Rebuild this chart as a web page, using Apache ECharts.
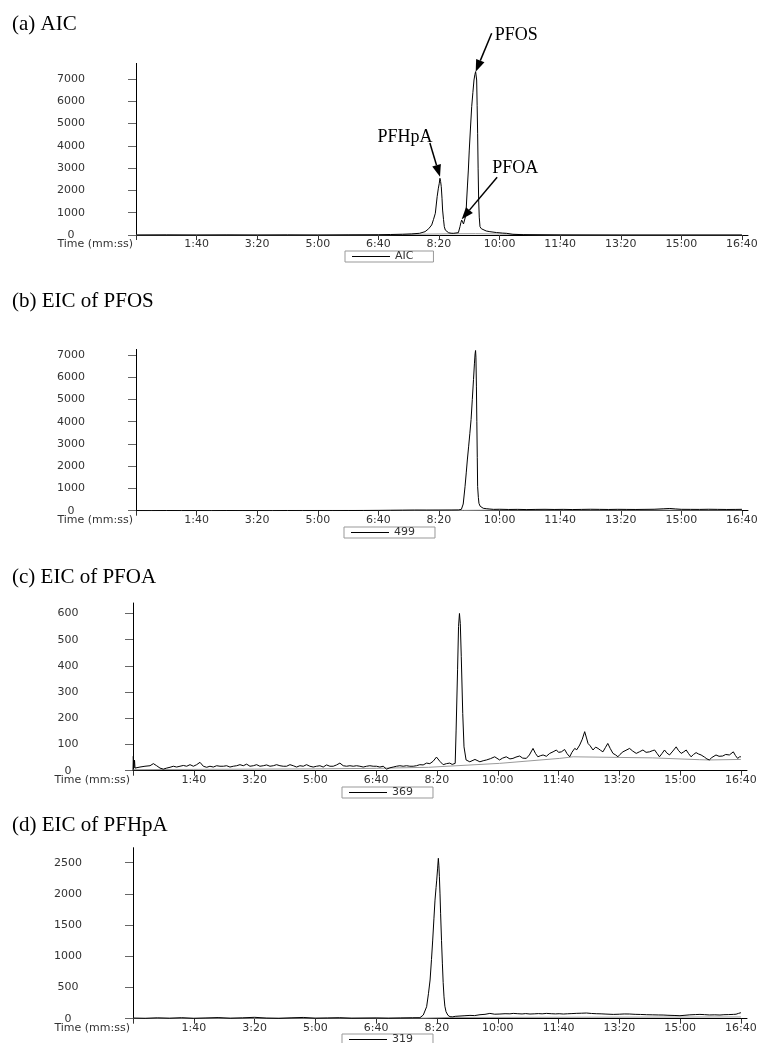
<!DOCTYPE html>
<html><head><meta charset="utf-8">
<script src="https://cdn.jsdelivr.net/npm/echarts@6/dist/echarts.min.js"></script>
<style>html,body{margin:0;padding:0;background:#fff}#c{width:763px;height:1043px}</style>
</head><body><div id="c"></div>
<script>
// ---- tick values and labels ----
const timeTicks = [0, 100, 200, 300, 400, 500, 600, 700, 800, 900, 1000];
const timeTickLabels = ['', '1:40', '3:20', '5:00', '6:40', '8:20', '10:00', '11:40', '13:20', '15:00', '16:40'];
const aicTicks = [0, 1000, 2000, 3000, 4000, 5000, 6000, 7000];
const pfosTicks = [0, 1000, 2000, 3000, 4000, 5000, 6000, 7000];
const pfoaTicks = [0, 100, 200, 300, 400, 500, 600];
const pfhpaTicks = [0, 500, 1000, 1500, 2000, 2500];

// ---- titles and legend names ----
const panelTitles = ['(a) AIC', '(b) EIC of PFOS', '(c) EIC of PFOA', '(d) EIC of PFHpA'];
const seriesNames = ['AIC', '499', '369', '319'];

// ---- (a) AIC trace [time s, intensity] ----
const aicData = [[0,0],[50,5],[100,0],[150,5],[200,0],[250,5],[300,0],[350,8],[400,12],[420,22],[440,35],[455,50],[468,76],[477,150],[483,280],[488,450],[491,700],[494,975],[497,1720],[499,2100],[500.5,2320],[501.6,2545],[502.7,2400],[503.8,2170],[505,1650],[506,1120],[507.5,700],[508.8,375],[510.5,220],[512.7,150],[516,100],[520,80],[523.6,75],[528,90],[532,105],[534.7,375],[536.2,560],[537.5,670],[539,600],[540.5,495],[542,520],[543,555],[544.5,900],[545.7,1570],[547,2200],[548.5,2915],[550,3810],[552,4800],[554,5760],[556,6400],[557.8,6955],[559.3,7200],[560.5,7330],[561.4,7250],[562.2,6955],[563,5800],[563.8,4565],[564.6,3000],[565.5,1570],[566.5,800],[567.7,375],[570,280],[573,225],[578,180],[584,150],[595,110],[605,85],[611.7,75],[622,30],[640,15],[700,5],[800,0],[900,0],[1000,0]];
const aicBase = [[0,0],[400,0],[440,20],[480,40],[520,55],[560,60],[600,45],[650,15],[700,0],[1000,0]];

// ---- (b) EIC of PFOS (m/z 499) ----
const pfosData = [[0,6],[25,4],[50,8],[75,5],[100,7],[125,4],[150,8],[175,5],[200,6],[225,4],[250,8],[275,5],[300,7],[325,5],[350,8],[375,10],[400,14],[420,20],[440,25],[460,30],[480,28],[500,30],[520,32],[532,35],[537,60],[540,300],[543,1080],[545,1700],[546.8,2280],[549,2900],[551,3480],[553,4100],[555,5000],[557,5900],[558.5,6600],[559.6,7050],[560.4,7200],[561,6900],[561.8,5600],[562.5,4000],[563.2,2400],[563.8,1080],[565,600],[566,330],[568,200],[570,150],[573,110],[578,90],[584,75],[590,60],[600,65],[615,55],[630,60],[645,50],[660,58],[675,62],[690,55],[705,60],[720,52],[735,58],[750,65],[765,60],[780,55],[795,62],[810,58],[825,55],[840,60],[855,65],[870,85],[881,100],[890,80],[900,62],[915,60],[930,58],[945,65],[960,60],[975,55],[990,58],[1000,62]];
const pfosBase = [[0,5],[540,15],[600,30],[1000,30]];

// ---- (c) EIC of PFOA (m/z 369) ----
const pfoaData = [[0,0],[0.5,55],[1.5,10],[2.5,40],[3.3,10],[11.5,14],[19.7,17],[28,19],[33.5,27],[38.9,19],[44.4,10],[49.9,6],[55.4,10],[60.9,13],[66.3,17],[71.8,14],[77.3,17],[82.8,20],[88.3,17],[93.8,23],[99.3,17],[104.7,23],[110.2,32],[115.7,17],[121.2,13],[126.6,17],[132.1,14],[137.6,19],[143.1,17],[148.6,17],[154,19],[159.5,14],[165,17],[170.5,19],[176,23],[181.4,19],[186.9,25],[192.4,17],[197.9,19],[203.4,23],[208.8,17],[214.3,19],[219.8,22],[225.3,17],[230.8,19],[236.2,23],[241.7,19],[247.2,17],[252.7,17],[258.2,23],[263.6,19],[269.1,14],[274.6,19],[280.1,17],[285.5,23],[291,17],[296.5,14],[302,17],[307.5,19],[312.9,14],[318.4,22],[323.9,17],[329.4,17],[334.9,22],[340.3,29],[345.8,19],[351.3,17],[356.8,19],[362.3,17],[367.7,19],[373.2,17],[378.7,14],[384.2,17],[389.6,19],[395.1,17],[400.6,17],[406.1,14],[411.6,17],[417,6],[422.5,11],[428,14],[433.5,17],[439,19],[444.4,17],[449.9,19],[455.4,17],[460.9,17],[466.3,19],[471.8,23],[477.3,22],[482.8,29],[488.3,27],[493.7,36],[499.2,52],[504.7,36],[510.2,23],[515.6,27],[521.1,29],[525,24],[530,28],[531.5,155],[533.9,385],[535.5,550],[537,600],[538.4,562],[540,435],[542.4,218],[544.5,91],[547.9,41],[554,34],[562.5,43],[570.6,34],[576,38],[581.5,41],[588,46],[595,53],[603,41],[608,48],[614,53],[620,45],[625,47],[630,52],[636,56],[641,48],[647,47],[652,60],[658,85],[662,66],[666,53],[670,57],[674.6,60],[680,55],[685.5,66],[691,72],[696.5,79],[700,70],[704.7,72],[710,81],[714,65],[718.4,53],[722,70],[726.6,85],[730,80],[734.8,98],[739,120],[743,149],[746,125],[748.5,104],[752,95],[756.7,79],[761,90],[765,85],[769,78],[773,72],[777,88],[781,104],[785,85],[789.5,66],[794,60],[797.7,53],[801,62],[805.9,72],[811,78],[816.8,85],[822,75],[827.8,66],[833,72],[838.8,79],[844,70],[849.7,72],[854,76],[858,79],[862,66],[866,53],[870,65],[874.3,79],[878,68],[882.5,60],[888,75],[893.5,91],[897,78],[901.7,66],[906,72],[910,79],[914,65],[918,53],[922,62],[926.3,69],[930,64],[934.5,60],[940,52],[944,45],[948,41],[952,50],[955,55],[959,60],[964,55],[970,56],[975,62],[981,60],[984,65],[987.5,72],[991,58],[994.6,47],[998,53],[1000,53]];
const pfoaBase = [[0,4],[100,5],[200,6],[300,7],[400,9],[486,13],[603,28],[702,47],[724,53],[855,49],[932,42],[948,41],[1000,43]];

// ---- (d) EIC of PFHpA (m/z 319) ----
const pfhpaData = [[0,10],[20,6],[40,14],[60,8],[80,16],[100,6],[120,12],[140,18],[160,8],[180,14],[200,22],[220,10],[240,6],[260,14],[280,20],[300,8],[320,12],[340,16],[360,8],[380,10],[400,12],[420,8],[440,12],[460,15],[472,16],[477.5,59],[483,192],[486,400],[488.7,620],[491,950],[493,1260],[495,1600],[496.8,1900],[498.5,2100],[499.6,2220],[501,2400],[502.3,2570],[503.2,2450],[504,2275],[505,2000],[506,1690],[507.5,1250],[508.9,890],[510.2,580],[511.6,350],[513,200],[514.9,112],[518,55],[521.4,32],[526,30],[530,38],[537.9,43],[546,48],[554.3,53],[562,50],[570.8,64],[579,70],[587,85],[595,72],[603.6,75],[612,80],[620,78],[625.5,85],[633,80],[640,76],[646,82],[653,75],[660,78],[667,82],[673,78],[680,85],[688,80],[695,77],[701,80],[707.8,75],[715,79],[722,82],[730,86],[738,88],[746,91],[754,84],[762,80],[770,78],[778,74],[790,69],[800,72],[808,76],[817,75],[826,70],[835,68],[845,64],[855,62],[864,60],[872,59],[880,55],[890,52],[899.7,48],[908,55],[916,62],[925,66],[932.6,69],[940,65],[948,60],[957,62],[965.5,59],[972,64],[980,66],[987.5,69],[992,72],[996,85],[1000,96]];
const pfhpaBase = [[0,5],[480,10],[520,20],[1000,28]];

// ---- annotation arrows in panel (a), data units [time, intensity] ----
const annoLabels = ['PFOS', 'PFHpA', 'PFOA'];
const annoTextAt = [[592, 8974], [444, 4397], [626, 3006]];
const annoFrom = [[587, 9050], [485, 4128], [596, 2589]];
const annoTip = [[560.6, 7328], [501.7, 2616], [537.5, 704]];
const annoAlign = ['left', 'center', 'center'];

// ---- layout (not data) ----
const layout = [
  {left:136, top:63.4, width:612, height:171.6, max:7700, ticks:aicTicks, data:aicData, base:aicBase, titleTop:14, legendLeft:345, legendTop:251},
  {left:136, top:349.4, width:612, height:161.3, max:7250, ticks:pfosTicks, data:pfosData, base:pfosBase, titleTop:291, legendLeft:344, legendTop:527},
  {left:133, top:603, width:614, height:167.7, max:640, ticks:pfoaTicks, data:pfoaData, base:pfoaBase, titleTop:567, legendLeft:342, legendTop:787},
  {left:133, top:847.7, width:614, height:171, max:2740, ticks:pfhpaTicks, data:pfhpaData, base:pfhpaBase, titleTop:815, legendLeft:342, legendTop:1034}
];

const labelFont = {fontFamily:'DejaVu Sans', fontSize:11, color:'#333'};

const option = {
  animation:false,
  backgroundColor:'#fff',
  title: layout.map((p,i)=>({text:panelTitles[i], left:12, top:p.titleTop, padding:0,
    textStyle:{fontFamily:'Liberation Serif', fontSize:21, fontWeight:'normal', color:'#000'}})),
  grid: layout.map(p=>({left:p.left, top:p.top, width:p.width, height:p.height, containLabel:false, outerBoundsMode:'none'})),
  legend: layout.map((p,i)=>({data:[seriesNames[i]], left:p.legendLeft, top:p.legendTop, selectedMode:false,
    icon:'rect', borderColor:'#999', borderWidth:1, borderRadius:0, padding:[0,20,0,7], itemWidth:38, itemHeight:1,
    textStyle:Object.assign({}, labelFont, {lineHeight:10})})),
  xAxis: layout.map((p,i)=>({type:'value', gridIndex:i, min:0, max:1010,
    axisLine:{show:true, onZero:false, lineStyle:{color:'#000', width:1}},
    axisTick:{show:true, customValues:timeTicks, length:5, lineStyle:{color:'#333'}},
    axisLabel:Object.assign({customValues:timeTicks, margin:4,
      formatter:(v)=>{const k=timeTicks.indexOf(v); return k>=0?timeTickLabels[k]:'';}}, labelFont),
    splitLine:{show:false},
    name:'Time (mm:ss)', nameLocation:'start', nameGap:3, nameMoveOverlap:false,
    nameTextStyle:Object.assign({verticalAlign:'top', align:'right', padding:[4,0,0,0]}, labelFont)
  })),
  yAxis: layout.map((p,i)=>({type:'value', gridIndex:i, min:0, max:p.max,
    axisLine:{show:true, onZero:false, lineStyle:{color:'#000', width:1}},
    axisTick:{show:true, customValues:p.ticks, length:8, lineStyle:{color:'#666'}},
    axisLabel:Object.assign({customValues:p.ticks, align:'center', margin:65, formatter:(v)=>String(v)}, labelFont),
    splitLine:{show:false}
  })),
  series: []
};
layout.forEach((p,i)=>{
  option.series.push({type:'line', name:'baseline'+i, xAxisIndex:i, yAxisIndex:i, data:p.base,
    symbol:'none', silent:true, lineStyle:{color:'#9a9a9a', width:1}, z:1});
  option.series.push({type:'line', name:seriesNames[i], xAxisIndex:i, yAxisIndex:i, data:p.data,
    symbol:'none', color:'#000', lineStyle:{color:'#000', width:1}, z:2});
});

const chart = echarts.init(document.getElementById('c'), null, {renderer:'canvas'});
chart.setOption(option);

// annotations placed through the axis scales of panel (a)
const gfx = [];
annoLabels.forEach((lab,k)=>{
  const tp = chart.convertToPixel({gridIndex:0}, annoTextAt[k]);
  const fp = chart.convertToPixel({gridIndex:0}, annoFrom[k]);
  const ip = chart.convertToPixel({gridIndex:0}, annoTip[k]);
  const dx = ip[0]-fp[0], dy = ip[1]-fp[1];
  const len = Math.sqrt(dx*dx+dy*dy);
  const ux = dx/len, uy = dy/len;
  const headL = 12, headW = 4.5;
  const bx = ip[0]-ux*headL, by = ip[1]-uy*headL;
  gfx.push({type:'line', shape:{x1:fp[0], y1:fp[1], x2:bx, y2:by}, style:{stroke:'#000', lineWidth:1.5}, z:10});
  gfx.push({type:'polygon', shape:{points:[[ip[0],ip[1]],[bx-uy*headW, by+ux*headW],[bx+uy*headW, by-ux*headW]]}, style:{fill:'#000'}, z:10});
  gfx.push({type:'text', x:tp[0], y:tp[1], style:{text:lab, fontFamily:'Liberation Serif', fontSize:18, fill:'#000', align:annoAlign[k], verticalAlign:'middle'}, z:10});
});
chart.setOption({graphic:gfx});
</script>
</body></html>
